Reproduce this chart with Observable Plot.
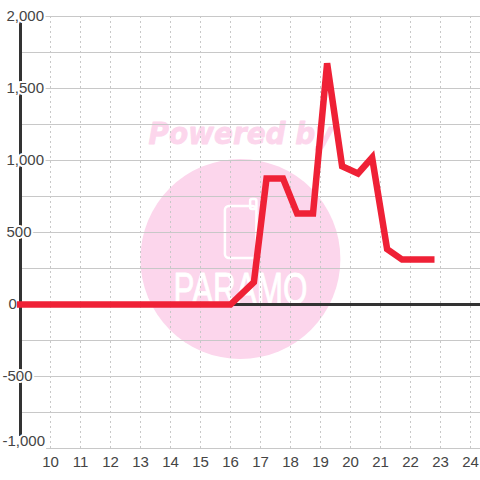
<!DOCTYPE html>
<html><head><meta charset="utf-8">
<script src="https://cdn.jsdelivr.net/npm/d3@7"></script>
<script src="https://cdn.jsdelivr.net/npm/@observablehq/plot@0.6"></script>
<style>html,body{margin:0;padding:0;background:#fff}svg{display:block}</style>
</head><body><div id="chart"></div>
<script>
const hours = [8.88, 16, 16.78, 17.2, 17.75, 18.22, 18.75, 19.22, 19.72, 20.25, 20.72, 21.22, 21.72, 22.8];
const values = [0, 0, 155, 875, 875, 632, 632, 1675, 960, 910, 1020, 385, 312, 312];
const xTicks = [10,11,12,13,14,15,16,17,18,19,20,21,22,23,24];
const yLabels = [-1000,-500,0,500,1000,1500,2000];
const yGrid = [-750,-500,-250,0,250,500,750,1000,1250,1500,1750,2000];
const series = hours.map((h,i)=>({h,v:values[i]}));
const font = "'Liberation Sans', Arial, sans-serif";
const pink = "#fcd6ec";
const grey = "#c8c8c8";
const ink = "#444";
const labelStart = d => d < 0 ? 8.4 : d === 0 ? 8.6 : 8.533;
const labelY = d => d === -1000 ? -951 : d;
const labelText = d => d3.format(",")(d).replace("\u2212","-");
const plot = Plot.plot({
  width:480, height:480,
  marginLeft:20, marginRight:0, marginTop:16, marginBottom:32,
  style:{background:"#fff", fontFamily:font},
  x:{domain:[9,24.333], axis:null},
  y:{domain:[-1000,2000], axis:null},
  marks:[
    Plot.dot([{x:16.33,y:316}],{x:"x",y:"y",r:100,fill:pink}),
    Plot.text(["Powered by"],{x:[16.35],y:[1180],text:d=>d,fontSize:30,fontWeight:"bold",fontStyle:"italic",fontFamily:"'DejaVu Sans'",fill:pink,stroke:pink,strokeWidth:0.8}),
    Plot.rect([{x1:15.83,x2:16.88,y1:320,y2:680}],{x1:"x1",x2:"x2",y1:"y1",y2:"y2",fill:"none",stroke:"#fff",strokeWidth:2.5,rx:4}),
    Plot.rect([{x1:16.67,x2:16.88,y1:660,y2:730}],{x1:"x1",x2:"x2",y1:"y1",y2:"y2",fill:"none",stroke:"#fff",strokeWidth:2.5,rx:2}),
    Plot.text(["PARAMO"],{x:[16.33],y:[104],text:d=>d,fontSize:44,fontFamily:"'Liberation Sans'",fill:"#fff",stroke:"#fff",strokeWidth:0.8}),
    Plot.ruleY(yGrid,{stroke:grey,strokeWidth:1}),
    Plot.ruleY([-1000],{x1:9.87,x2:24.333,stroke:grey,strokeWidth:1}),
    Plot.ruleX(xTicks,{y1:-1000,y2:2000,stroke:grey,strokeWidth:1,strokeDasharray:"2 3"}),
    Plot.ruleX([9],{y1:-917,y2:2000,stroke:"#333",strokeWidth:3}),
    Plot.ruleY([0],{stroke:"#333",strokeWidth:3}),
    Plot.text(yLabels,{x:labelStart,y:labelY,text:labelText,textAnchor:"start",fontSize:15,fill:ink,stroke:"#fff",strokeWidth:4,paintOrder:"stroke"}),
    Plot.line(series,{x:"h",y:"v",stroke:"#ef2136",strokeWidth:6.5,strokeLinejoin:"miter",strokeMiterlimit:4,strokeLinecap:"butt"}),
    Plot.text(xTicks,{x:d=>d,y:-1000,text:d=>String(d),dy:13.5,fontSize:15,fill:ink})
  ]
});
const fit = (label, length) => d3.select(plot).selectAll("text")
  .filter(function(){return this.textContent===label})
  .attr("textLength",length).attr("lengthAdjust","spacingAndGlyphs");
fit("PARAMO",134);
fit("Powered by",185);
document.getElementById("chart").append(plot);
</script></body></html>
